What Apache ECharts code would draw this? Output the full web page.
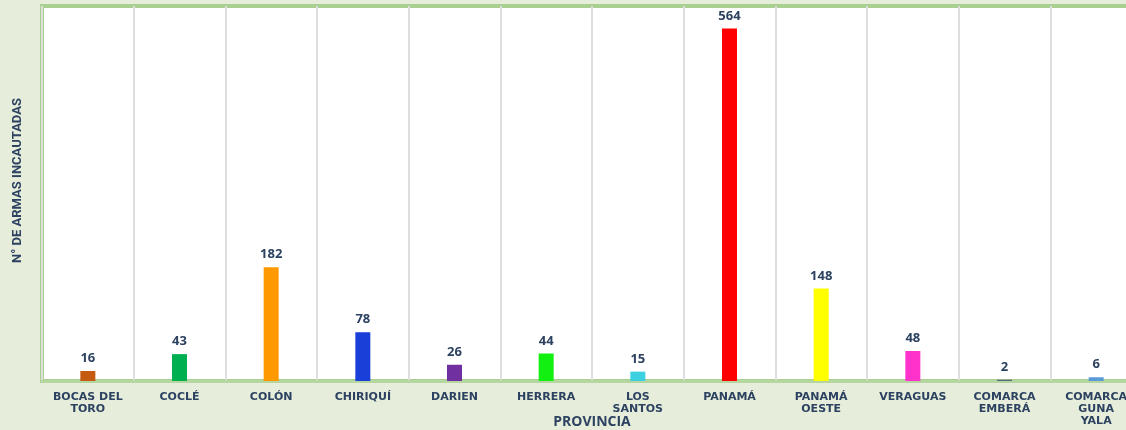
<!DOCTYPE html>
<html>
<head>
<meta charset="utf-8">
<script src="https://cdn.jsdelivr.net/npm/echarts@6/dist/echarts.min.js"></script>
<style>
  html, body { margin: 0; padding: 0; overflow: hidden; background: #e6eddb; }
  #container { width: 1142px; height: 430px; }
</style>
</head>
<body>
<div id="container"></div>
<script>
var provincias = ['BOCAS DEL\nTORO', 'COCLÉ', 'COLÓN', 'CHIRIQUÍ', 'DARIEN', 'HERRERA', 'LOS\nSANTOS',
  'PANAMÁ', 'PANAMÁ\nOESTE', 'VERAGUAS', 'COMARCA\nEMBERÁ', 'COMARCA\nGUNA\nYALA'];
var armas = [16, 43, 182, 78, 26, 44, 15, 564, 148, 48, 2, 6];
var barColors = ['#c55a11', '#00b050', '#ff9900', '#1a3fd8', '#7030a0', '#11f011', '#3cd0e0',
  '#ff0000', '#ffff00', '#ff33cc', '#5a6a80', '#5b9bd5'];

var dom = document.getElementById('container');
var myChart = echarts.init(dom);
var textColor = '#2c4260';

var option = {
  backgroundColor: '#e6eddb',
  grid: {
    show: true,
    left: 42,
    top: 6,
    right: 0,
    bottom: 49,
    outerBoundsMode: 'none',
    containLabel: false,
    backgroundColor: '#ffffff',
    borderColor: '#a9d08f',
    borderWidth: 4
  },
  xAxis: {
    type: 'category',
    data: provincias,
    name: 'PROVINCIA',
    nameLocation: 'middle',
    nameGap: 34,
    nameMoveOverlap: false,
    nameTextStyle: { color: textColor, fontWeight: 'bold', fontSize: 14, fontFamily: 'Open Sans' },
    axisLine: { lineStyle: { color: '#b5d6a0', width: 3 } },
    axisTick: { show: false },
    axisLabel: {
      interval: 0,
      margin: 10,
      color: textColor,
      fontWeight: 'bold',
      fontSize: 11,
      lineHeight: 12,
      fontFamily: 'DejaVu Sans'
    },
    splitLine: { show: true, lineStyle: { color: '#dedede', width: 2 } }
  },
  yAxis: {
    type: 'value',
    min: 0,
    max: 600,
    name: 'N° DE ARMAS INCAUTADAS',
    nameLocation: 'middle',
    nameGap: 18,
    nameRotate: 90,
    nameMoveOverlap: false,
    nameTextStyle: {
      color: textColor, fontWeight: 'bold', fontSize: 13, fontFamily: 'Roboto',
      padding: [0, 0, 0, 26]
    },
    axisLine: { show: false },
    axisTick: { show: false },
    axisLabel: { show: false },
    splitLine: { show: false }
  },
  series: [{
    type: 'bar',
    barWidth: 15,
    data: armas.map(function (v, i) {
      return { value: v, itemStyle: { color: barColors[i] } };
    }),
    label: {
      show: true,
      position: 'top',
      distance: 6,
      color: textColor,
      fontWeight: 'bold',
      fontSize: 13,
      fontFamily: 'Open Sans'
    }
  }]
};

myChart.setOption(option);
</script>
</body>
</html>
